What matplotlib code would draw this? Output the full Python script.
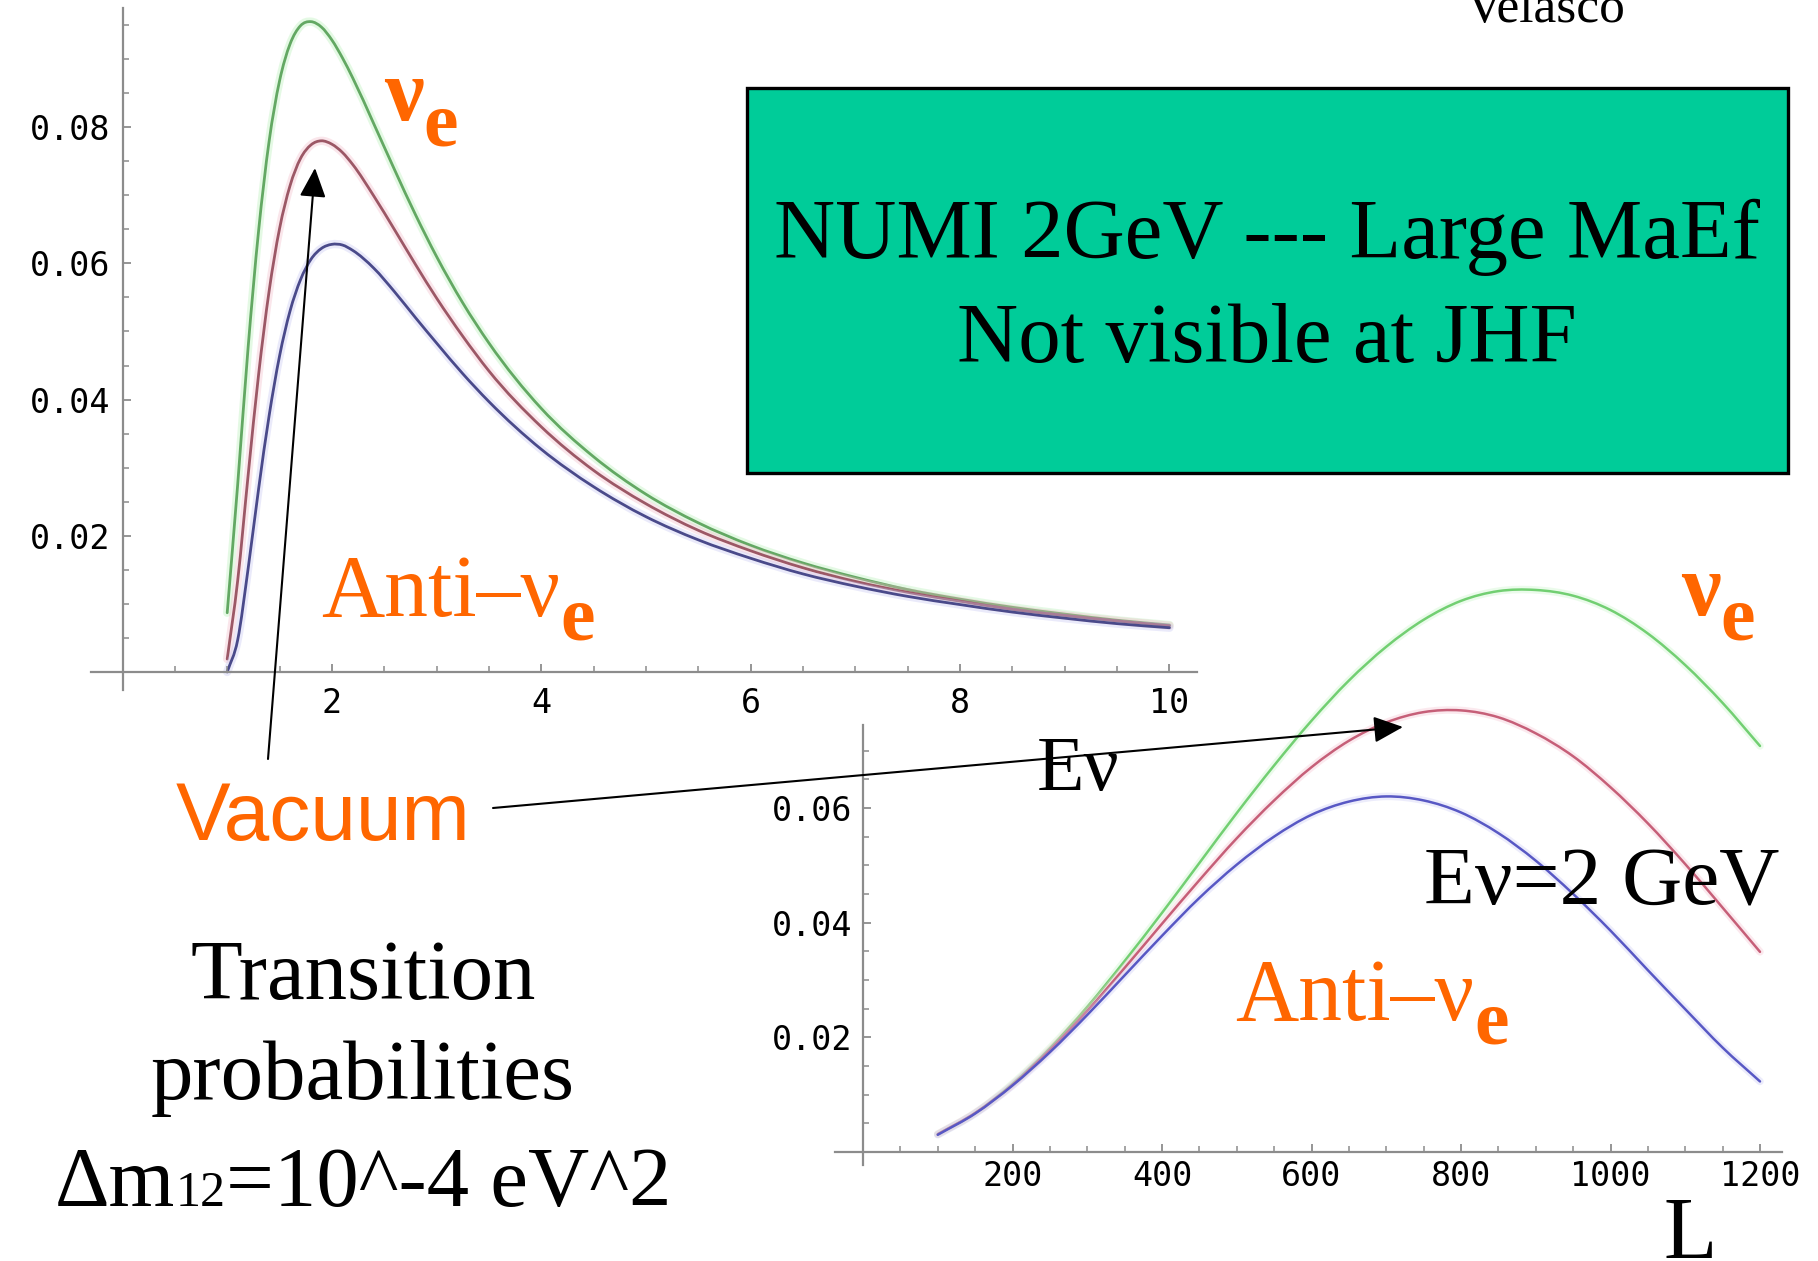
import matplotlib
matplotlib.use("Agg")
import matplotlib.pyplot as plt
from matplotlib.patches import Rectangle, FancyArrowPatch, PathPatch
from matplotlib.path import Path

W, H = 1818, 1261
DPI = 100

# ---------------- data ----------------
# nu_mu -> nu_e transition probability versus neutrino energy (GeV)
energy_gev = [1.0, 1.1, 1.2, 1.3, 1.4, 1.5, 1.6, 1.7, 1.8, 1.9, 2.0, 2.1, 2.2,
              2.4, 2.6, 2.8, 3.0, 3.25, 3.5, 4.0, 4.5, 5.0, 5.5, 6.0, 6.5,
              7.0, 7.5, 8.0, 8.5, 9.0, 9.5, 10.0]
prob_e_nu = [0.0087, 0.0275, 0.0477, 0.0648, 0.0779, 0.0868, 0.0922, 0.0949,
             0.0955, 0.0947, 0.0928, 0.0902, 0.0872, 0.0805, 0.0737, 0.0671,
             0.0610, 0.0542, 0.0483, 0.0387, 0.0316, 0.0261, 0.0219, 0.0186,
             0.0160, 0.0139, 0.0121, 0.0107, 0.0095, 0.0085, 0.0076, 0.0069]
prob_e_vac = [0.0019, 0.0134, 0.0289, 0.0437, 0.0559, 0.0651, 0.0714, 0.0754,
              0.0774, 0.0780, 0.0775, 0.0763, 0.0745, 0.0699, 0.0649, 0.0598,
              0.0549, 0.0493, 0.0442, 0.0360, 0.0296, 0.0247, 0.0208, 0.0178,
              0.0153, 0.0133, 0.0117, 0.0104, 0.0092, 0.0083, 0.0075, 0.0068]
prob_e_anti = [0.0000, 0.0047, 0.0152, 0.0269, 0.0376, 0.0464, 0.0530, 0.0576,
               0.0606, 0.0622, 0.0628, 0.0627, 0.0619, 0.0593, 0.0558, 0.0520,
               0.0483, 0.0438, 0.0397, 0.0327, 0.0272, 0.0228, 0.0194, 0.0167,
               0.0144, 0.0126, 0.0111, 0.0099, 0.0088, 0.0079, 0.0071, 0.0065]

# transition probability versus baseline L (km) at E = 2 GeV
baseline_km = [100, 150, 200, 250, 300, 350, 400, 450, 500, 550, 600, 650,
               700, 750, 800, 850, 900, 950, 1000, 1050, 1100, 1150, 1200]
prob_l_nu = [0.0031, 0.0068, 0.0119, 0.0181, 0.0253, 0.0333, 0.0417, 0.0504,
             0.0591, 0.0674, 0.0752, 0.0822, 0.0881, 0.0928, 0.0961, 0.0978,
             0.0980, 0.0970, 0.0945, 0.0904, 0.0849, 0.0783, 0.0708]
prob_l_vac = [0.0031, 0.0068, 0.0117, 0.0178, 0.0246, 0.0321, 0.0398, 0.0474,
              0.0547, 0.0613, 0.0671, 0.0717, 0.0749, 0.0767, 0.0770, 0.0758,
              0.0730, 0.0690, 0.0636, 0.0573, 0.0502, 0.0426, 0.0349]
prob_l_anti = [0.0030, 0.0067, 0.0116, 0.0174, 0.0239, 0.0308, 0.0377, 0.0443,
               0.0501, 0.0550, 0.0588, 0.0611, 0.0620, 0.0613, 0.0592, 0.0556,
               0.0508, 0.0450, 0.0386, 0.0317, 0.0249, 0.0182, 0.0123]

e_ticks = [2, 4, 6, 8, 10]
e_minor = [0.5, 1, 1.5, 2.5, 3, 3.5, 4.5, 5, 5.5, 6.5, 7, 7.5, 8.5, 9, 9.5]
p_ticks_top = [0.02, 0.04, 0.06, 0.08]
l_ticks = [200, 400, 600, 800, 1000, 1200]
p_ticks_bottom = [0.02, 0.04, 0.06]

ORANGE = "#ff6600"
AXIS_GREY = "#8c8c8c"
SERIF = ["Liberation Serif", "DejaVu Serif"]
MONO = ["DejaVu Sans Mono"]

fig = plt.figure(figsize=(W / DPI, H / DPI), dpi=DPI)
fig.patch.set_facecolor("white")


def fx(x):
    return x / W


def fy(y):
    return 1 - y / H


def make_axes(x0, y0, sx, sy, xlim, ylim, xbounds, ybounds,
              xmaj, xmin, ymaj, ymin, xfmt, yfmt, xpad, ypad):
    """Axes whose data origin sits at pixel (x0, y0), sx/sy pixels per unit."""
    left = x0 + sx * xlim[0]
    right = x0 + sx * xlim[1]
    bottom = y0 - sy * ylim[0]
    top = y0 - sy * ylim[1]
    ax = fig.add_axes([fx(left), fy(bottom), (right - left) / W, (bottom - top) / H])
    ax.set_xlim(xlim)
    ax.set_ylim(ylim)
    ax.patch.set_alpha(0)
    for s in ("top", "right"):
        ax.spines[s].set_visible(False)
    for s in ("left", "bottom"):
        ax.spines[s].set_position(("data", 0))
        ax.spines[s].set_color(AXIS_GREY)
        ax.spines[s].set_linewidth(1.6)
    ax.spines["bottom"].set_bounds(*xbounds)
    ax.spines["left"].set_bounds(*ybounds)
    ax.set_xticks(xmaj)
    ax.set_xticks(xmin, minor=True)
    ax.set_yticks(ymaj)
    ax.set_yticks(ymin, minor=True)
    ax.set_xticklabels([xfmt(v) for v in xmaj], family=MONO, fontsize=24)
    ax.set_yticklabels([yfmt(v) for v in ymaj], family=MONO, fontsize=24)
    ax.tick_params(which="major", direction="in", length=6, width=1.3,
                   color=AXIS_GREY)
    ax.tick_params(which="minor", direction="in", length=4, width=1.1,
                   color=AXIS_GREY)
    ax.tick_params(axis="x", which="major", pad=xpad)
    ax.tick_params(axis="y", which="major", pad=ypad)
    return ax


def smooth_path(x, y):
    """Cubic Hermite (Bezier) path passing through every (x, y) point."""
    n = len(x)
    h = [x[i + 1] - x[i] for i in range(n - 1)]
    d = [(y[i + 1] - y[i]) / h[i] for i in range(n - 1)]
    m = [d[0]]
    for i in range(1, n - 1):
        m.append((d[i - 1] * h[i] + d[i] * h[i - 1]) / (h[i - 1] + h[i]))
    m.append(d[-1])
    verts = [(x[0], y[0])]
    codes = [Path.MOVETO]
    for i in range(n - 1):
        verts += [(x[i] + h[i] / 3, y[i] + m[i] * h[i] / 3),
                  (x[i + 1] - h[i] / 3, y[i + 1] - m[i + 1] * h[i] / 3),
                  (x[i + 1], y[i + 1])]
        codes += [Path.CURVE4] * 3
    return Path(verts, codes)


def curve(ax, x, y, core, halo, lw):
    path = smooth_path(x, y)
    ax.add_patch(PathPatch(path, fill=False, edgecolor=halo, lw=lw * 3.0,
                           alpha=0.35, capstyle="round", clip_on=False))
    ax.add_patch(PathPatch(path, fill=False, edgecolor=core, lw=lw,
                           capstyle="round", clip_on=False))


# ---------------- upper panel: P versus E ----------------
ax1 = make_axes(122.5, 672, 104.7, 6810, (-0.5, 10.6), (-0.004, 0.0985),
                (-0.3, 10.26), (-0.0027, 0.0975),
                e_ticks, e_minor, p_ticks_top,
                [0.005, 0.01, 0.015, 0.025, 0.03, 0.035, 0.045, 0.05, 0.055,
                 0.065, 0.07, 0.075, 0.085, 0.09, 0.095],
                lambda v: f"{v:d}", lambda v: f"{v:.2f}", 11, 9)
curve(ax1, energy_gev, prob_e_nu, "#63a863", "#b4f0b4", 2.0)
curve(ax1, energy_gev, prob_e_vac, "#9c5866", "#f2b8c6", 2.0)
curve(ax1, energy_gev, prob_e_anti, "#4a4a8a", "#c4c4f2", 2.0)

# ---------------- lower panel: P versus L ----------------
ax2 = make_axes(863, 1152, 0.7475, 5735, (-110, 1270), (-0.006, 0.104),
                (-37, 1229), (-0.0023, 0.0745),
                l_ticks, [50, 100, 150, 250, 300, 350, 450, 500, 550, 650, 700,
                          750, 850, 900, 950, 1050, 1100, 1150],
                p_ticks_bottom,
                [0.005, 0.01, 0.015, 0.025, 0.03, 0.035, 0.045, 0.05, 0.055,
                 0.065, 0.07],
                lambda v: f"{v:d}", lambda v: f"{v:.2f}", 6, 8)
curve(ax2, baseline_km, prob_l_nu, "#72cf72", "#c6f6c6", 1.8)
curve(ax2, baseline_km, prob_l_vac, "#c65f78", "#f6c2d0", 1.8)
curve(ax2, baseline_km, prob_l_anti, "#5858c4", "#cacaf6", 1.8)

# ---------------- annotation box ----------------
fig.patches.append(Rectangle((fx(747), fy(473)), (1788 - 747) / W, (473 - 88) / H,
                             transform=fig.transFigure, facecolor="#00cc99",
                             edgecolor="black", lw=2.4, zorder=3))
fig.text(fx(1267), fy(258), "NUMI 2GeV --- Large MaEf", family=SERIF,
         fontsize=61, ha="center", va="baseline", zorder=4)
fig.text(fx(1267), fy(362), "Not visible at JHF", family=SERIF,
         fontsize=61, ha="center", va="baseline", zorder=4)

fig.text(fx(1545), fy(22), "Velasco", family=SERIF, fontsize=37,
         ha="center", va="baseline")

renderer = fig.canvas.get_renderer()


def text_runs(x, y, parts, center=False):
    """Place consecutive text pieces on a common baseline (pixel coords)."""
    items = []
    for s, size, weight, color, dy in parts:
        t = fig.text(0, 0, s, family=SERIF, fontsize=size, weight=weight,
                     color=color, ha="left", va="baseline", zorder=6)
        w = t.get_window_extent(renderer).width
        items.append((t, w, dy))
    total = sum(w for _, w, _ in items)
    cx = x - total / 2 if center else x
    for t, w, dy in items:
        t.set_position((fx(cx), fy(y + dy)))
        cx += w


# orange channel labels
text_runs(384, 120, [("ν", 64, "bold", ORANGE, 0), ("e", 56, "bold", ORANGE, 25)])
text_runs(321, 616, [("Anti–ν", 63, "normal", ORANGE, 0),
                     ("e", 56, "bold", ORANGE, 24)])
text_runs(1681, 615, [("ν", 64, "bold", ORANGE, 0), ("e", 56, "bold", ORANGE, 25)])
text_runs(1235, 1020, [("Anti–ν", 63, "normal", ORANGE, 0),
                       ("e", 56, "bold", ORANGE, 23)])
fig.text(fx(176), fy(840), "Vacuum", family=["Liberation Sans"], fontsize=59,
         color=ORANGE, ha="left", va="baseline", zorder=6)

# black labels
fig.text(fx(1078), fy(790), "Eν", family=SERIF, fontsize=56,
         ha="center", va="baseline", zorder=6)
fig.text(fx(1424), fy(904), "Eν=2 GeV", family=SERIF, fontsize=60,
         ha="left", va="baseline", zorder=6)
fig.text(fx(1664), fy(1258), "L", family=SERIF, fontsize=63,
         ha="left", va="baseline", zorder=6)

fig.text(fx(363), fy(999), "Transition", family=SERIF, fontsize=61,
         ha="center", va="baseline")
fig.text(fx(363), fy(1099), "probabilities", family=SERIF, fontsize=61,
         ha="center", va="baseline")
text_runs(363, 1206, [("Δm", 61, "normal", "black", 0),
                      ("12", 36, "normal", "black", 0),
                      ("=10^-4 eV^2", 61, "normal", "black", 0)], center=True)

# arrows from the vacuum label to the vacuum curves
for tail, head in [((268, 759), (315, 168)), ((493, 808), (1403, 727))]:
    fig.patches.append(FancyArrowPatch(
        (fx(tail[0]), fy(tail[1])), (fx(head[0]), fy(head[1])),
        transform=fig.transFigure, arrowstyle="-|>,head_length=1.0,head_width=0.45",
        mutation_scale=18, lw=1.5, color="black", shrinkA=0, shrinkB=0, zorder=7))

fig.savefig("out.png", dpi=DPI, facecolor="white")
